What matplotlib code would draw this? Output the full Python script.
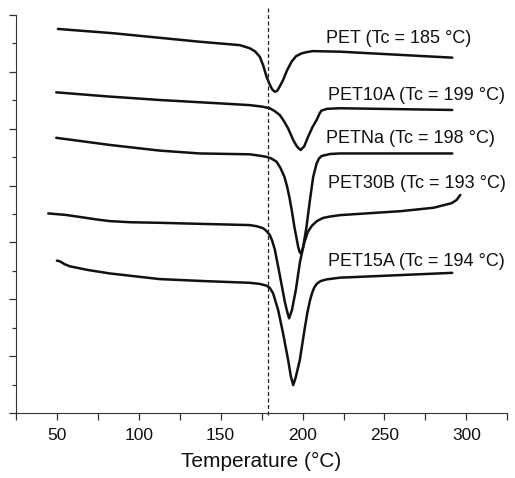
import matplotlib
matplotlib.use("Agg")
import matplotlib.pyplot as plt
from matplotlib.ticker import MultipleLocator, FixedLocator, NullFormatter

plt.rcParams['font.family'] = ['Liberation Sans', 'DejaVu Sans']

# ---- data (temperature °C, heat flow in arbitrary offset units) ----
pet_T = [50.6, 84.2, 137.2, 161.7, 167.8, 171, 173.9, 176, 178.0, 180, 181.5, 183.1, 184.5,
         186, 188.1, 190.5, 193.3, 196, 199.4, 203, 206.3, 222.8, 291.4]
pet_Y = [13.51, 13.36, 13.06, 12.94, 12.83, 12.72, 12.53, 12.22, 11.83, 11.55, 11.38, 11.30, 11.33,
         11.48, 11.71, 12.05, 12.36, 12.55, 12.65, 12.70, 12.73, 12.71, 12.50]

pet10a_T = [49.6, 80, 112.8, 150, 167.8, 175, 180.0, 183, 186.1, 188.5, 191.2, 194.3, 196.5, 198.8,
            201, 203.4, 206, 208.6, 210.5, 211.6, 215, 222.8, 291.4]
pet10a_Y = [11.28, 11.14, 11.01, 10.89, 10.83, 10.78, 10.72, 10.62, 10.48, 10.28, 10.01, 9.60, 9.38, 9.25,
            9.38, 9.72, 10.05, 10.31, 10.55, 10.64, 10.70, 10.72, 10.66]

petna_T = [49.6, 82.2, 112.8, 137.2, 167.8, 173.9, 178.0, 181, 184.1, 186.5, 188.9, 190.4, 191.9,
           193.5, 195.0, 197.3, 198.1, 198.8, 199.5, 200.4, 202.4, 204.5, 206.5, 208.6, 210,
           211.6, 216.7, 222.8, 291.4]
petna_Y = [9.68, 9.43, 9.23, 9.13, 9.10, 9.05, 9.01, 8.95, 8.84, 8.62, 8.31, 8.00, 7.61,
           7.10, 6.55, 5.85, 5.68, 5.62, 5.68, 5.85, 6.55, 7.49, 8.31, 8.78, 8.95,
           9.04, 9.11, 9.13, 9.13]

pet30b_T = [44.7, 55, 65.9, 74, 82.2, 95, 112.8, 140, 167.8, 172, 175.9, 178, 180.0, 181.5, 183.1,
            186.1, 189.2, 190.8, 191.8, 193.5, 195.9, 198.4, 200.8, 203.2, 205.6, 208.7, 212.4,
            216.7, 222.8, 260, 280, 291, 294, 296.3]
pet30b_Y = [7.02, 6.97, 6.88, 6.81, 6.75, 6.71, 6.69, 6.65, 6.61, 6.57, 6.50, 6.40, 6.26, 6.05, 5.74,
            4.85, 3.90, 3.52, 3.33, 3.62, 4.33, 5.31, 5.94, 6.37, 6.58, 6.75, 6.86,
            6.91, 6.96, 7.10, 7.22, 7.38, 7.49, 7.67]

pet15a_T = [50, 52, 54.5, 57.8, 69, 82.2, 112.8, 140, 167.8, 173.9, 178.0, 180, 182.0, 185.1, 188.1,
            191.2, 192.8, 194.3, 195.8, 198.3, 201.4, 203, 204.5, 205.8, 207.2, 208.8, 211,
            214.7, 222.8, 291.4]
pet15a_Y = [5.36, 5.33, 5.24, 5.16, 5.03, 4.91, 4.71, 4.64, 4.58, 4.54, 4.48, 4.40, 4.21, 3.62, 2.80,
            1.86, 1.30, 0.98, 1.25, 1.86, 3.00, 3.55, 3.95, 4.22, 4.42, 4.55, 4.64,
            4.70, 4.76, 4.93]

labels = ["PET (Tc = 185 °C)", "PET10A (Tc = 199 °C)", "PETNa (Tc = 198 °C)",
          "PET30B (Tc = 193 °C)", "PET15A (Tc = 194 °C)"]
label_x = [214.3, 215.3, 214.3, 215.3, 215.3]
label_y = [13.19, 11.16, 9.66, 8.08, 5.32]

ref_T = 179
x_major = [50, 100, 150, 200, 250, 300]
x_minor = [25, 75, 125, 175, 225, 275, 325]

# ---- figure ----
fig = plt.figure(figsize=(5.15, 4.78), dpi=100)
ax = fig.add_axes([0.031, 0.136, 0.954, 0.8326])

for T, Y in [(pet_T, pet_Y), (pet10a_T, pet10a_Y), (petna_T, petna_Y),
             (pet30b_T, pet30b_Y), (pet15a_T, pet15a_Y)]:
    ax.plot(T, Y, color='#111111', lw=1.8, solid_capstyle='round', solid_joinstyle='round')

ax.axvline(ref_T, ymin=-0.005, ymax=1.018, color='#222222', lw=0.9,
           linestyle=(0, (3.2, 2.0)), clip_on=False)

for s, x, y in zip(labels, label_x, label_y):
    ax.text(x, y, s, ha='left', va='center', fontsize=13, color='#111111')

ax.set_xlim(25, 325)
ax.set_ylim(0, 14)
ax.spines['top'].set_visible(False)
ax.spines['right'].set_visible(False)
ax.spines['left'].set_color('#333333')
ax.spines['bottom'].set_color('#333333')

ax.xaxis.set_major_locator(FixedLocator(x_major))
ax.xaxis.set_minor_locator(FixedLocator(x_minor))
ax.yaxis.set_major_locator(MultipleLocator(2))
ax.yaxis.set_minor_locator(MultipleLocator(1))
ax.yaxis.set_major_formatter(NullFormatter())
ax.tick_params(axis='x', which='major', length=5, width=0.9, labelsize=12.5, pad=6, colors='#333333',
               labelcolor='#111111')
ax.tick_params(axis='x', which='minor', length=5, width=0.9, colors='#333333')
ax.tick_params(axis='y', which='major', length=5, width=0.9, colors='#333333')
ax.tick_params(axis='y', which='minor', length=3, width=0.9, colors='#333333')

ax.set_xlabel("Temperature (°C)", fontsize=15, color='#111111', labelpad=6)

fig.savefig("out.png", dpi=100)
